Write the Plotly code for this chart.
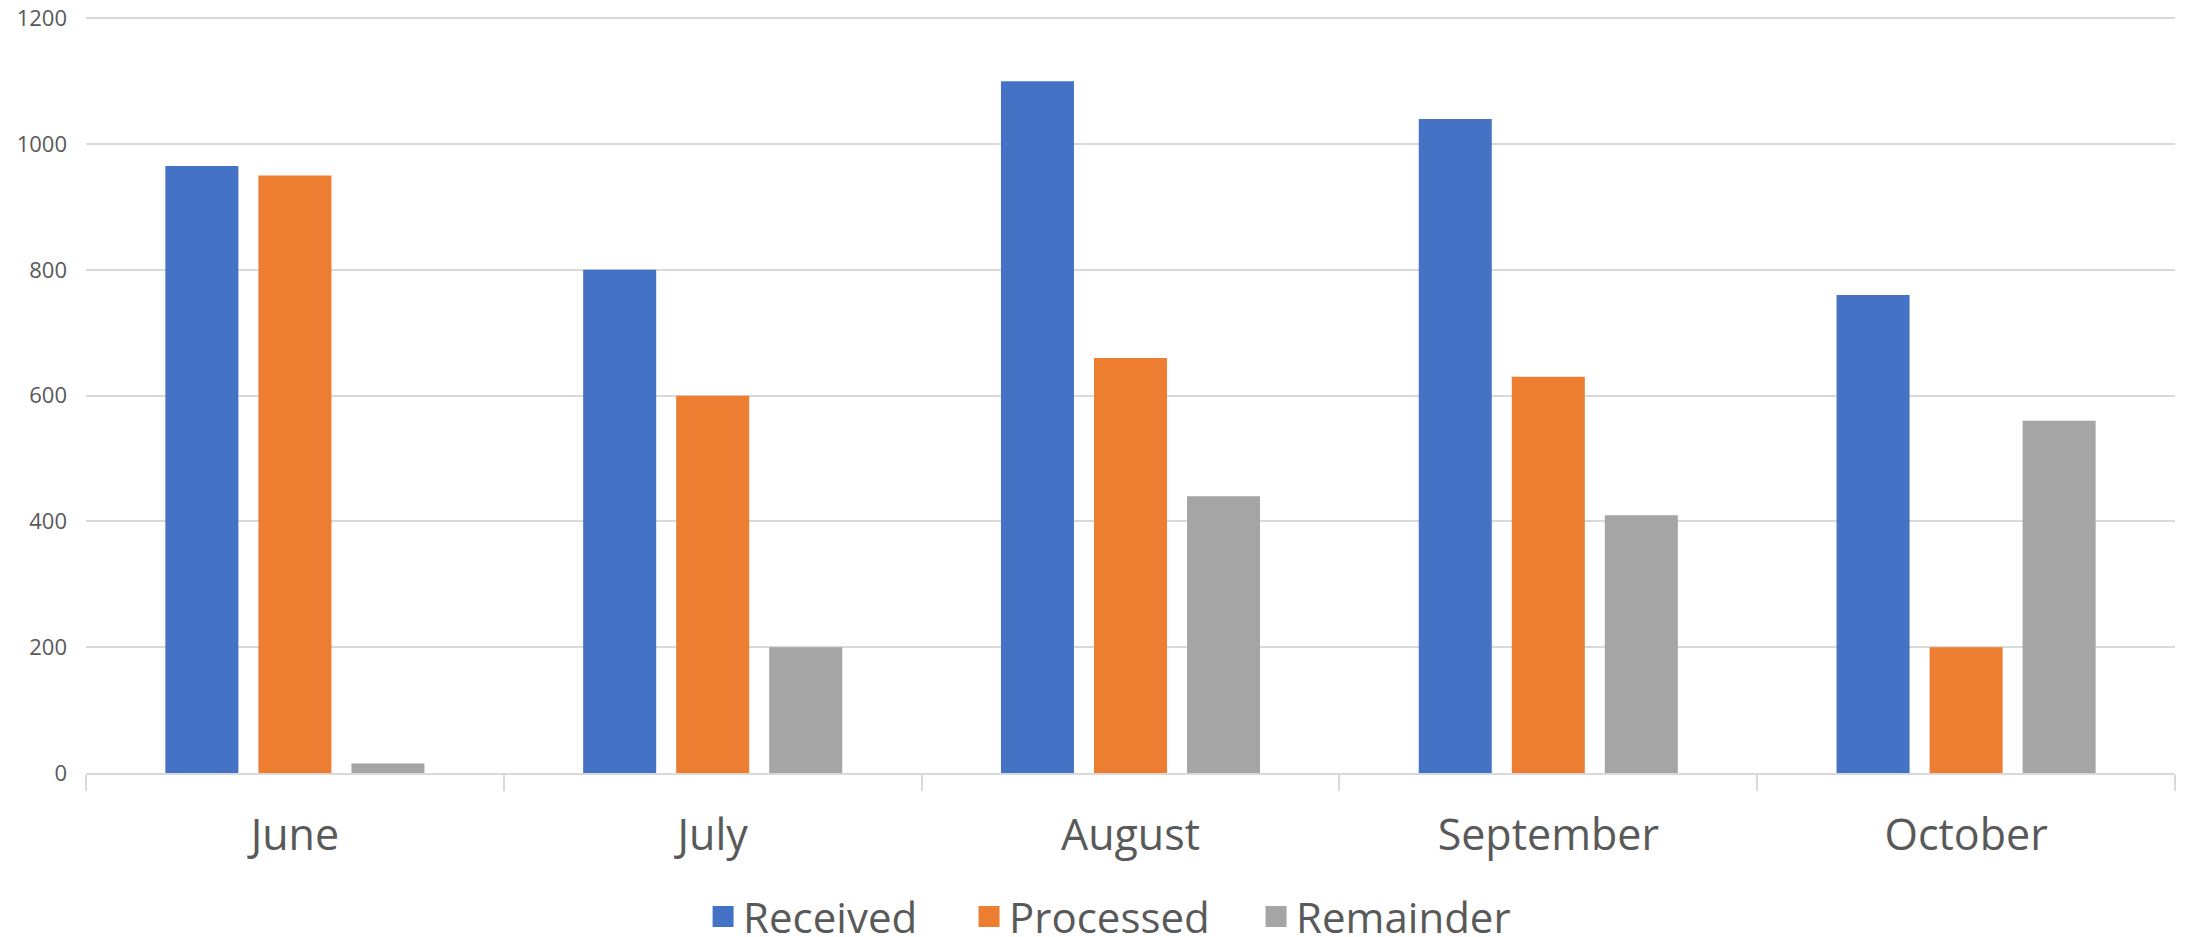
import plotly.graph_objects as go

months = ["June", "July", "August", "September", "October"]
received = [965, 800, 1100, 1040, 760]
processed = [950, 600, 660, 630, 200]
remainder = [15, 200, 440, 410, 560]
y_ticks = [0, 200, 400, 600, 800, 1000, 1200]

colors = {"Received": "#4472C4", "Processed": "#ED7D31", "Remainder": "#A5A5A5"}
series = [("Received", received), ("Processed", processed), ("Remainder", remainder)]
legend_ids = ["legend", "legend2", "legend3"]
legend_x = [0.2954, 0.4227, 0.5601]

fig = go.Figure()
for name, vals in series:
    fig.add_trace(go.Bar(x=months, y=vals, name=name, showlegend=False,
                         marker=dict(color=colors[name], line=dict(width=0))))
# legend-only entries with larger square swatches
for (name, _), lid in zip(series, legend_ids):
    fig.add_trace(go.Scatter(x=[None], y=[None], mode="markers", name=name, legend=lid,
                             marker=dict(symbol="square", size=16, color=colors[name],
                                         line=dict(width=5, color=colors[name]))))

legend_style = dict(orientation="h", xanchor="left", y=-0.19, yanchor="middle",
                    font=dict(size=42, color="#595959"), itemwidth=30,
                    bgcolor="rgba(0,0,0,0)")

# page body has an 8px default margin, so the figure is sized to fit the window
fig.update_layout(
    width=2182, height=929,
    paper_bgcolor="white", plot_bgcolor="white",
    margin=dict(l=78, r=15, t=9, b=164, autoexpand=False),
    barmode="group", bargap=0.332, bargroupgap=0.215,
    font=dict(family="Open Sans", color="#595959"),
    legend=dict(x=legend_x[0], **legend_style),
    legend2=dict(x=legend_x[1], **legend_style),
    legend3=dict(x=legend_x[2], **legend_style),
    xaxis=dict(showline=True, linecolor="#D9D9D9", linewidth=1.5, ticks="outside",
               tickson="boundaries", ticklen=16, tickcolor="#D9D9D9", tickwidth=1.5,
               tickfont=dict(size=43, color="#595959"), ticklabelstandoff=24, showgrid=False,
               automargin=False),
    yaxis=dict(range=[0, 1202], tickvals=y_ticks, showgrid=True, gridcolor="#D9D9D9", gridwidth=1.5,
               zeroline=False, showline=False, tickfont=dict(size=22, color="#595959"),
               ticklabelstandoff=18, automargin=False, ticklabeloverflow="allow"),
)

fig.write_html("out.html")
